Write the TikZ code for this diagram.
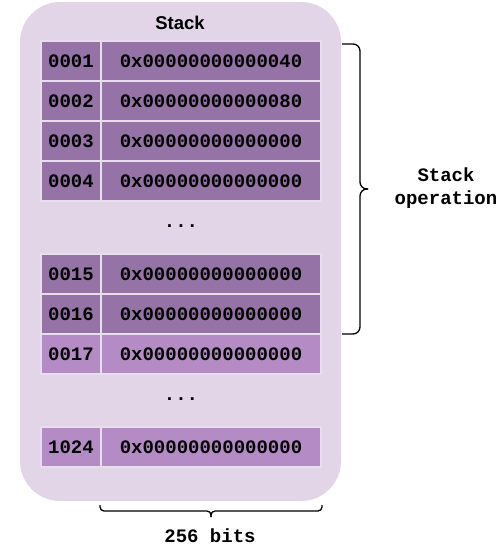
\documentclass[tikz,border=0pt]{standalone}
\usepackage{fontspec}
\setsansfont{Liberation Sans}
\setmonofont{Liberation Mono}
\usetikzlibrary{positioning}

\definecolor{stackbg}{HTML}{E1D5E7}
\definecolor{slotline}{HTML}{E8DFEC}
\definecolor{slotdark}{HTML}{9673A6}
\definecolor{slotlight}{HTML}{B58BC6}

\tikzset{
  slot/.style={rectangle,draw=slotline,line width=2pt,minimum height=40pt,inner sep=0pt,
    font=\fontsize{19}{22}\selectfont\ttfamily\bfseries},
  idx/.style={slot,minimum width=60pt},
  word/.style={slot,minimum width=220pt},
  lbl/.style={font=\fontsize{19}{23}\selectfont\ttfamily\bfseries,align=center},
  brc/.style={draw=black,line width=1.3pt,rounded corners=7pt}
}

\begin{document}
\begin{tikzpicture}[x=1pt,y=-1pt]
\useasboundingbox (0,0) rectangle (502,548);
\fill[stackbg,rounded corners=40pt] (20,2) rectangle (341,501);
\node[font=\fontsize{18.5}{22}\selectfont\sffamily\bfseries] (title) at (180,23) {Stack};

\node[idx,fill=slotdark] (i1) at (71,61) {0001};
\node[word,fill=slotdark] (w1) at (211,61) {0x00000000000040};
\node[idx,fill=slotdark] (i2) at (71,101) {0002};
\node[word,fill=slotdark] (w2) at (211,101) {0x00000000000080};
\node[idx,fill=slotdark] (i3) at (71,141) {0003};
\node[word,fill=slotdark] (w3) at (211,141) {0x00000000000000};
\node[idx,fill=slotdark] (i4) at (71,181) {0004};
\node[word,fill=slotdark] (w4) at (211,181) {0x00000000000000};
\node[lbl] (dots1) at (181,226) {...};
\node[idx,fill=slotdark] (i15) at (71,274) {0015};
\node[word,fill=slotdark] (w15) at (211,274) {0x00000000000000};
\node[idx,fill=slotdark] (i16) at (71,314) {0016};
\node[word,fill=slotdark] (w16) at (211,314) {0x00000000000000};
\node[idx,fill=slotlight] (i17) at (71,354) {0017};
\node[word,fill=slotlight] (w17) at (211,354) {0x00000000000000};
\node[lbl] (dots2) at (181,399) {...};
\node[idx,fill=slotlight] (i1024) at (71,447) {1024};
\node[word,fill=slotlight] (w1024) at (211,447) {0x00000000000000};

% brace for the stack operation
\coordinate (optop) at (342,44);
\coordinate (opbot) at (342,334);
\coordinate (optip) at (368,189);
\draw[brc] (optop) -- (360,44) -- (360,189) -- (optip);
\draw[brc] (optip) -- (360,189) -- (360,334) -- (opbot);
\node[lbl] (op) at (446,188) {Stack\\operation};

% brace for the word width
\coordinate (bl) at (100,505);
\coordinate (br) at (322,505);
\coordinate (btip) at (211,517);
\draw[brc,rounded corners=4pt] (bl) -- (100,511) -- (211,511) -- (btip);
\draw[brc,rounded corners=4pt] (btip) -- (211,511) -- (322,511) -- (br);
\node[lbl] (bits) at (210,536) {256 bits};

\end{tikzpicture}
\end{document}
